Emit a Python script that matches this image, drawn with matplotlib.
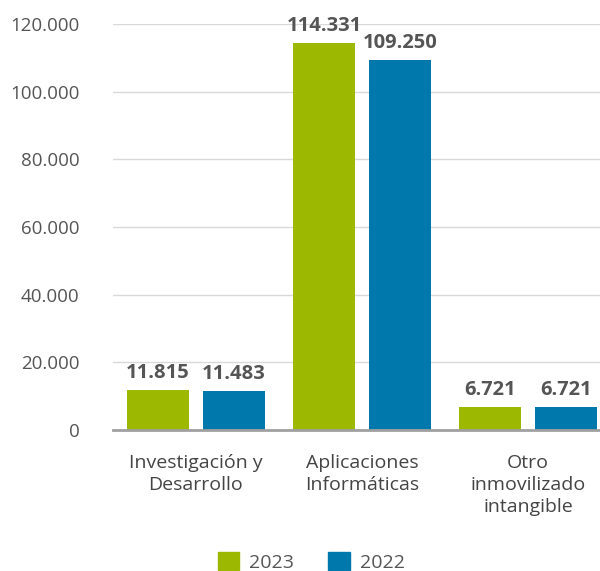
import matplotlib
matplotlib.use("Agg")
import matplotlib.pyplot as plt
from matplotlib.ticker import FuncFormatter
from matplotlib.patches import Patch
import numpy as np

categories = ["Investigación y\nDesarrollo", "Aplicaciones\nInformáticas", "Otro\ninmovilizado\nintangible"]
series_names = ["2023", "2022"]
values_2023 = [11815, 114331, 6721]
values_2022 = [11483, 109250, 6721]
yticks = [0, 20000, 40000, 60000, 80000, 100000, 120000]

green = "#9cb800"
blue = "#0078ab"
text_gray = "#555555"

plt.rcParams['font.family'] = ['Open Sans', 'DejaVu Sans']

fig = plt.figure(figsize=(6.0, 5.71), dpi=100)
W, H = 600, 571
ax = fig.add_axes([113 / W, 1 - 430 / H, 498 / W, (430 - 24) / H])

x = np.arange(len(categories))
bw = 62 / 166
off = 38 / 166
b1 = ax.bar(x - off, values_2023, bw, color=green, zorder=3)
b2 = ax.bar(x + off, values_2022, bw, color=blue, zorder=3)

def fmt(v):
    return f"{int(v):,}".replace(",", ".")

for bars, vals in ((b1, values_2023), (b2, values_2022)):
    for rect, v in zip(bars, vals):
        ax.annotate(fmt(v), (rect.get_x() + rect.get_width() / 2, v),
                    xytext=(0, 5), textcoords="offset points",
                    ha="center", va="bottom", fontsize=14.5, fontweight="bold",
                    color=text_gray, clip_on=False)

ax.set_xlim(-0.5, 2.5)
ax.set_ylim(0, 120000)
ax.set_yticks(yticks)
ax.yaxis.set_major_formatter(FuncFormatter(lambda v, p: fmt(v)))
ax.grid(axis="y", color="#d9d9d9", linewidth=1, zorder=0)
ax.set_axisbelow(True)
for s in ["top", "right", "left"]:
    ax.spines[s].set_visible(False)
ax.spines["bottom"].set_color("#a0a0a0")
ax.spines["bottom"].set_linewidth(2)
ax.spines["bottom"].set_zorder(4)
ax.tick_params(axis="y", length=0, pad=24, labelsize=13.5, labelcolor=text_gray)
ax.set_xticks(x)
ax.set_xticklabels(categories, linespacing=1.3)
ax.tick_params(axis="x", length=0, pad=17, labelsize=14, labelcolor="#444444")

handles = [Patch(color=green), Patch(color=blue)]
fig.legend(handles, series_names, loc="lower left", bbox_to_anchor=(200 / W, -18 / H),
           ncol=2, frameon=False, fontsize=14, labelcolor=text_gray,
           handlelength=1.1, handleheight=1.1, handletextpad=0.5, columnspacing=1.8)

fig.savefig("out.png", dpi=100)
